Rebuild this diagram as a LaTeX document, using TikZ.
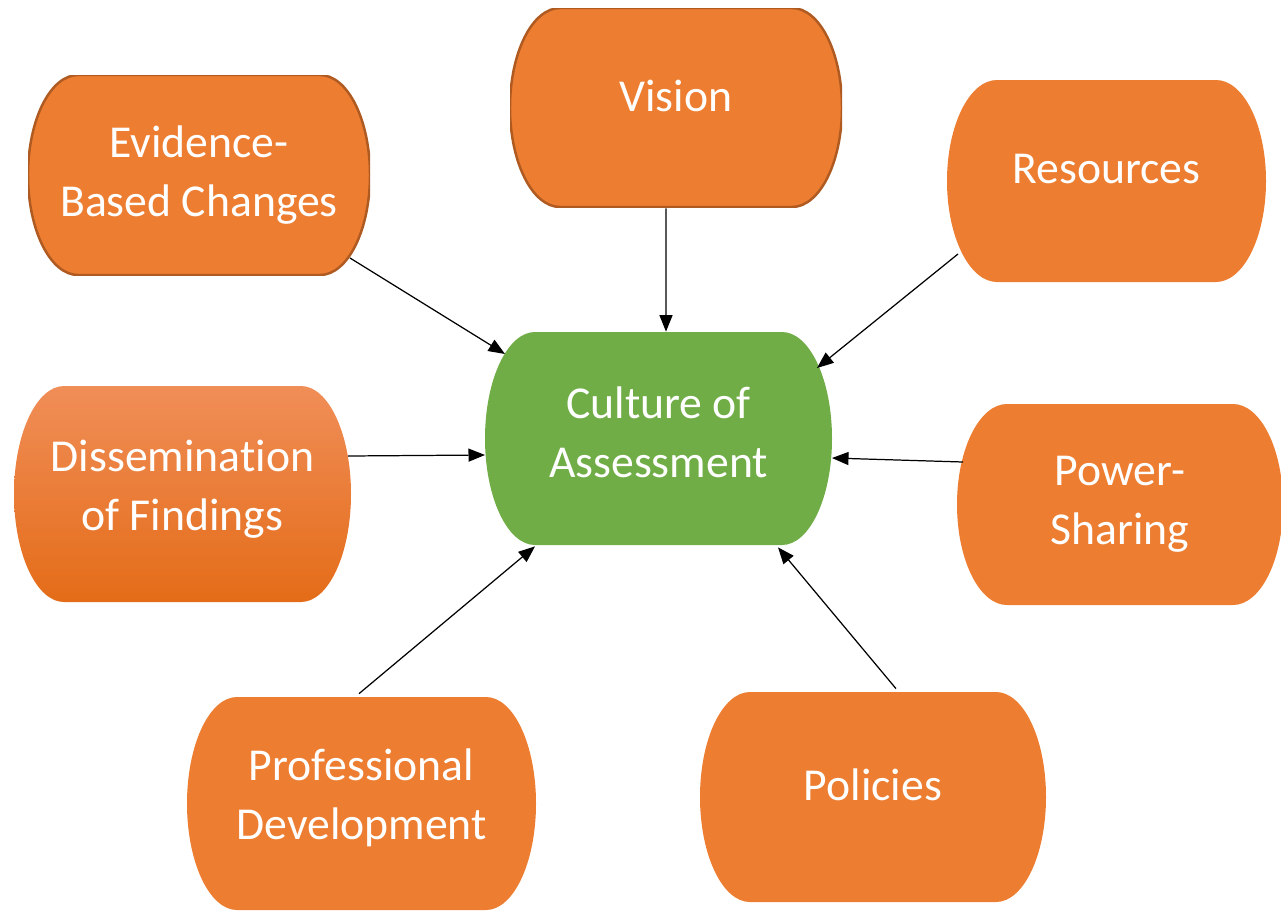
\documentclass[tikz,border=0pt]{standalone}
\usepackage{fontspec}
\setmainfont{Carlito}[Ligatures=NoCommon]
\usetikzlibrary{calc,arrows.meta}
\definecolor{pillorange}{RGB}{237,125,49}
\definecolor{pilledge}{RGB}{174,90,33}
\definecolor{pillgreen}{RGB}{112,173,71}
\definecolor{fadetop}{RGB}{240,142,88}
\definecolor{fademid}{RGB}{243,126,45}
\definecolor{fadebot}{RGB}{228,108,24}
\def\pb{path picture bounding box}
\newcommand\pillshape{([xshift=1cm]\pb.north west) -- ([xshift=-1cm]\pb.north east)
  .. controls ([xshift=-0.448cm]\pb.north east) and ($(\pb.east)!0.552!(\pb.north east)$) .. (\pb.east)
  .. controls ($(\pb.east)!0.552!(\pb.south east)$) and ([xshift=-0.448cm]\pb.south east) .. ([xshift=-1cm]\pb.south east)
  -- ([xshift=1cm]\pb.south west)
  .. controls ([xshift=0.448cm]\pb.south west) and ($(\pb.west)!0.552!(\pb.south west)$) .. (\pb.west)
  .. controls ($(\pb.west)!0.552!(\pb.north west)$) and ([xshift=0.448cm]\pb.north west) .. cycle}
\tikzset{pill body/.style={fill=pillorange},
  pill/.style n args={2}{rectangle, inner sep=0pt, minimum width=#1*0.02cm, minimum height=#2*0.02cm,
    align=center, text=white, font=\fontsize{26}{33.5}\selectfont,
    path picture={\path[pill body] \pillshape;}},
  edged/.style={pill body/.style={fill=pillorange, draw=pilledge, line width=1.4pt}},
  lift/.style={text depth=#1},
  feed/.style={-{Triangle[length=3.3mm,width=2.6mm]}, line width=0.7pt, black}}

\begin{document}
\begin{tikzpicture}[x=0.02cm, y=-0.02cm]
  \useasboundingbox (0,0) rectangle (1281,910);
  \node[pill={347}{213}, lift=0.26cm, pill body/.style={fill=pillgreen}] (cul) at (658.5,438.5) {Culture of\\Assessment};
  \node[pill={342}{200}, edged] (evi) at (199,175) {Evidence-\\Based Changes};
  \node[pill={332}{199}, lift=0.48cm, edged] (vis) at (676,107.5) {Vision};
  \node[pill={319}{202}, lift=0.48cm] (res) at (1106.5,181) {Resources};
  \node[pill={337}{216}, lift=0.36cm, pill body/.style={top color=fadetop, middle color=fademid, bottom color=fadebot}] (dis) at (182.5,494) {Dissemination\\of Findings};
  \node[pill={326}{201}] (pow) at (1120,504.5) {Power-\\Sharing};
  \node[pill={349}{213}, lift=0.38cm] (pro) at (361.5,803.5) {Professional\\Development};
  \node[pill={346}{210}, lift=0.48cm] (pol) at (873,797) {Policies};
  \draw[feed] ($(evi)+(151,83)$) -- ($(cul)+(-153.5,-84.5)$);
  \draw[feed] ($(vis.south)+(-10,1)$) -- ($(cul.north)+(7.5,0)$);
  \draw[feed] ($(res)+(-148.5,73)$) -- ($(cul)+(158.5,-70.5)$);
  \draw[feed] ($(dis)+(165.5,-38)$) -- ($(cul)+(-173.5,16.5)$);
  \draw[feed] ($(pow)+(-157,-42.5)$) -- ($(cul)+(173.5,19.5)$);
  \draw[feed] ($(pro.north)+(-2.5,-3)$) -- ($(cul.south)+(-123.5,1)$);
  \draw[feed] ($(pol.north)+(23,-3)$) -- ($(cul.south)+(119.5,2)$);
\end{tikzpicture}
\end{document}
